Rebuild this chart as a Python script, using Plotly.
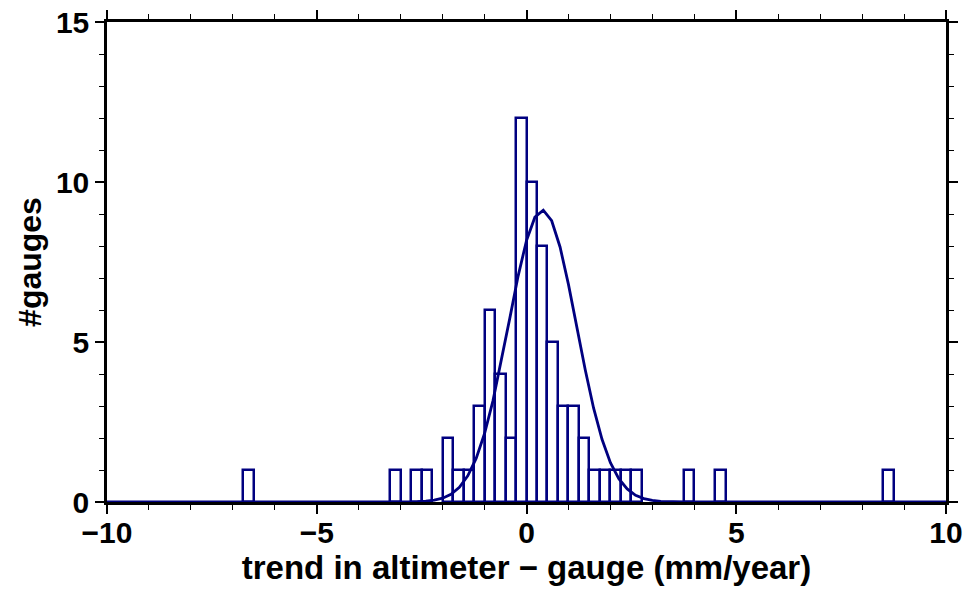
import plotly.graph_objects as go

# Histogram bins (width 0.25): left edges and counts
bin_width = 0.25
bin_left = [-6.75, -3.25, -2.75, -2.5, -2.0, -1.75, -1.5, -1.25, -1.0, -0.75,
            -0.5, -0.25, 0.0, 0.25, 0.5, 0.75, 1.0, 1.25, 1.5, 1.75,
            2.0, 2.25, 2.5, 3.75, 4.5, 8.5]
counts = [1, 1, 1, 1, 2, 1, 1, 3, 6, 4,
          2, 12, 10, 8, 5, 3, 3, 2, 1, 1,
          1, 1, 1, 1, 1, 1]

# Fitted curve points
curve_x = [-10.0, -3.0, -2.8, -2.6, -2.4, -2.2, -2.0, -1.8, -1.6, -1.4, -1.2,
           -1.0, -0.8, -0.6, -0.4, -0.2, 0.0, 0.2, 0.4, 0.6, 0.8,
           1.0, 1.2, 1.4, 1.6, 1.8, 2.0, 2.2, 2.4, 2.6, 2.8,
           3.0, 3.2, 3.4, 3.6, 3.8, 4.0, 10.0]
curve_y = [0.0, 0.0, 0.004, 0.01, 0.025, 0.057, 0.12, 0.24, 0.46, 0.82, 1.36,
           2.14, 3.16, 4.39, 5.73, 7.06, 8.17, 8.90, 9.12, 8.79, 7.97,
           6.80, 5.46, 4.13, 2.93, 1.96, 1.23, 0.73, 0.41, 0.21, 0.105,
           0.049, 0.021, 0.009, 0.003, 0.001, 0.0, 0.0]

x_ticks = [-10, -5, 0, 5, 10]
y_ticks = [0, 5, 10, 15]

navy = "#000080"
font_family = "Liberation Sans, Arial, sans-serif"

centers = [l + bin_width / 2 for l in bin_left]

fig = go.Figure()
fig.add_trace(go.Bar(
    x=centers, y=counts, width=bin_width,
    marker=dict(color="rgba(255,255,255,0)", line=dict(color=navy, width=2.5)),
    showlegend=False,
))
fig.add_trace(go.Scatter(
    x=curve_x, y=curve_y, mode="lines",
    line=dict(color=navy, width=2.8),
    showlegend=False,
))

axis_common = dict(
    showgrid=False, zeroline=False, automargin=False,
    showline=True, linecolor="black", linewidth=2.5,
    mirror="ticks", ticks="outside", tickcolor="black", tickwidth=1.5, ticklen=9,
    ticklabeloverflow="allow",
    tickfont=dict(family=font_family, size=30, color="black", weight="bold"),
)

fig.update_layout(
    width=967, height=589,
    margin=dict(l=107, r=21, t=22, b=87),
    paper_bgcolor="white", plot_bgcolor="white",
    bargap=0,
    xaxis=dict(
        range=[-10, 10], tickvals=x_ticks,
        minor=dict(dtick=1, ticks="outside", ticklen=5, tickcolor="black", tickwidth=1.2),
        ticklabelstandoff=-7,
        title=dict(text="trend in altimeter − gauge (mm/year)", standoff=3,
                   font=dict(family=font_family, size=33, color="black", weight="bold")),
        **axis_common,
    ),
    yaxis=dict(
        range=[0, 15], tickvals=y_ticks,
        minor=dict(dtick=1, ticks="outside", ticklen=5, tickcolor="black", tickwidth=1.2),
        title=dict(text="#gauges", standoff=5,
                   font=dict(family=font_family, size=32, color="black", weight="bold")),
        **axis_common,
    ),
)

fig.write_html(
    "out.html",
    config={"displayModeBar": False},
    post_script="document.body.style.margin='0';document.body.style.overflow='hidden';",
)
